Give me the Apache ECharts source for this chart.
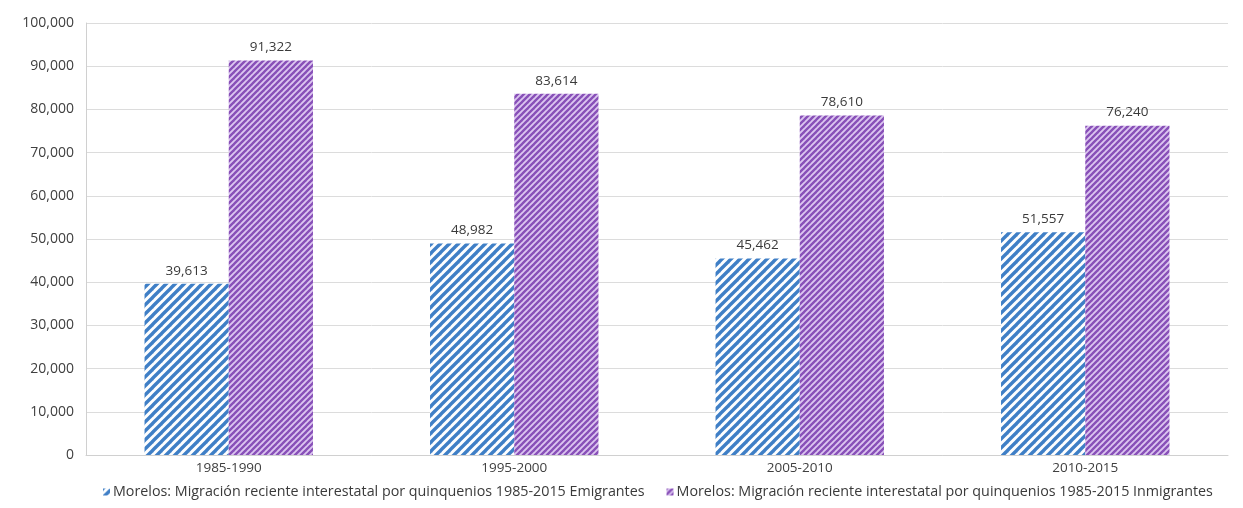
<!DOCTYPE html>
<html><head><meta charset="utf-8">
<script src="https://cdn.jsdelivr.net/npm/echarts@6/dist/echarts.min.js"></script>
<style>html,body{margin:0;padding:0;background:#fff}#c{width:1243px;height:508px}</style>
</head><body><div id="c"></div>
<script>
const categories = ['1985-1990', '1995-2000', '2005-2010', '2010-2015'];
const emigrantes = [39613, 48982, 45462, 51557];
const inmigrantes = [91322, 83614, 78610, 76240];
const seriesNames = [
  'Morelos: Migración reciente interestatal por quinquenios 1985-2015 Emigrantes',
  'Morelos: Migración reciente interestatal por quinquenios 1985-2015 Inmigrantes'
];

function hatch(size, bg, fg, lw) {
  const c = document.createElement('canvas');
  c.width = size; c.height = size;
  const g = c.getContext('2d');
  g.fillStyle = bg; g.fillRect(0, 0, size, size);
  g.strokeStyle = fg; g.lineWidth = lw; g.lineCap = 'square';
  for (let k = -1; k <= 1; k++) {
    g.beginPath();
    g.moveTo(k * size, size);
    g.lineTo(k * size + size, 0);
    g.stroke();
  }
  return c;
}
const bluePat = { image: hatch(9, '#ffffff', '#3f7fc6', 3.4), repeat: 'repeat' };
const purplePat = { image: hatch(6, '#dcc6f0', '#8850b8', 2.4), repeat: 'repeat' };

const font = '"Open Sans", Lato, sans-serif';
const chart = echarts.init(document.getElementById('c'), null, { renderer: 'canvas' });
chart.setOption({
  animation: false,
  textStyle: { fontFamily: font },
  grid: { left: 86, right: 15, top: 23, bottom: 53, containLabel: false },
  legend: {
    bottom: 4, left: 98, itemGap: 22, itemWidth: 7, itemHeight: 7, icon: 'rect',
    textStyle: { fontSize: 14.3, color: '#3a3a3a', fontFamily: font, padding: [0, 0, 0, -2] },
    data: seriesNames
  },
  xAxis: {
    type: 'category', data: categories,
    axisLine: { show: true, lineStyle: { color: '#d0d0d0', width: 1 } },
    axisTick: { show: false },
    axisLabel: { color: '#404040', fontSize: 13.5, margin: 6, fontFamily: font }
  },
  yAxis: {
    type: 'value', min: 0, max: 100000, interval: 10000,
    axisLine: { show: true, lineStyle: { color: '#d0d0d0' } },
    axisTick: { show: false },
    splitLine: { lineStyle: { color: '#dcdcdc' } },
    axisLabel: {
      color: '#404040', fontSize: 14, margin: 12, fontFamily: font,
      formatter: v => v.toLocaleString('en-US')
    }
  },
  series: [
    {
      name: seriesNames[0], type: 'bar', data: emigrantes, barWidth: '29.5%', barGap: '0%',
      itemStyle: { color: bluePat },
      label: { show: true, position: 'top', distance: 6, color: '#3a3a3a', fontSize: 13.5, fontFamily: font,
        formatter: p => p.value.toLocaleString('en-US') }
    },
    {
      name: seriesNames[1], type: 'bar', data: inmigrantes, barWidth: '29.5%', barGap: '0%',
      itemStyle: { color: purplePat },
      label: { show: true, position: 'top', distance: 6, color: '#3a3a3a', fontSize: 13.5, fontFamily: font,
        formatter: p => p.value.toLocaleString('en-US') }
    }
  ]
});
</script></body></html>
